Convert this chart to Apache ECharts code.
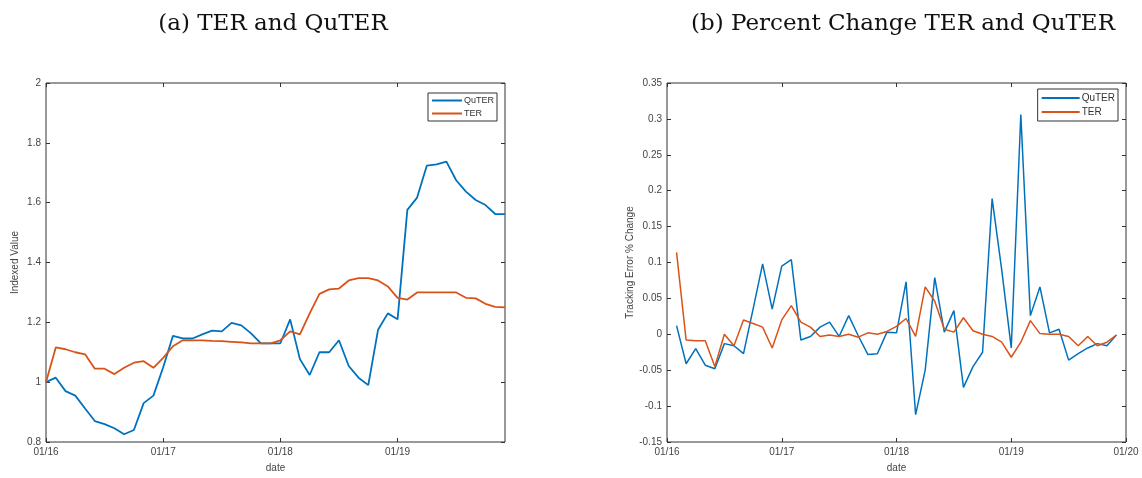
<!DOCTYPE html>
<html>
<head>
<meta charset="utf-8">
<script src="https://cdn.jsdelivr.net/npm/echarts@6/dist/echarts.min.js"></script>
<style>
  html, body { margin: 0; padding: 0; background: #fff; }
  #chart { width: 1142px; height: 478px; }
</style>
</head>
<body>
<div id="chart"></div>
<script>
// monthly dates 01/16 .. 01/20
var months = [
  '01/16','02/16','03/16','04/16','05/16','06/16','07/16','08/16','09/16','10/16','11/16','12/16',
  '01/17','02/17','03/17','04/17','05/17','06/17','07/17','08/17','09/17','10/17','11/17','12/17',
  '01/18','02/18','03/18','04/18','05/18','06/18','07/18','08/18','09/18','10/18','11/18','12/18',
  '01/19','02/19','03/19','04/19','05/19','06/19','07/19','08/19','09/19','10/19','11/19','12/19',
  '01/20'
];

// (a) indexed values, 01/16 .. 12/19
var quterIndex = [
  1.00, 1.015, 0.97, 0.955, 0.912, 0.87, 0.86, 0.846, 0.826, 0.84, 0.93, 0.955,
  1.05, 1.155, 1.146, 1.146, 1.16, 1.172, 1.17, 1.198, 1.19, 1.163, 1.13, 1.13,
  1.13, 1.21, 1.077, 1.024, 1.10, 1.10, 1.14, 1.054, 1.015, 0.99, 1.175, 1.23,
  1.21, 1.576, 1.617, 1.724, 1.728, 1.737, 1.675, 1.637, 1.609, 1.592, 1.562, 1.562
];
var terIndex = [
  1.00, 1.116, 1.11, 1.10, 1.093, 1.045, 1.045, 1.027, 1.048, 1.065, 1.07, 1.048,
  1.081, 1.12, 1.14, 1.14, 1.14, 1.138, 1.137, 1.135, 1.133, 1.13, 1.13, 1.13,
  1.14, 1.17, 1.16, 1.23, 1.295, 1.31, 1.313, 1.34, 1.348, 1.348, 1.34, 1.32,
  1.282, 1.276, 1.30, 1.30, 1.30, 1.30, 1.30, 1.282, 1.28, 1.262, 1.252, 1.25
];

// (b) percent change, 02/16 .. 12/19
var quterPct = [
  0.012, -0.041, -0.02, -0.043, -0.048, -0.013, -0.016, -0.027, 0.035, 0.098, 0.035,
  0.095, 0.104, -0.008, -0.003, 0.01, 0.017, -0.003, 0.026, -0.002, -0.028, -0.027, 0.003,
  0.002, 0.073, -0.112, -0.05, 0.079, 0.003, 0.033, -0.074, -0.045, -0.025, 0.189, 0.09,
  -0.019, 0.306, 0.026, 0.066, 0.002, 0.007, -0.036, -0.027, -0.019, -0.013, -0.016, -0.001
];
var terPct = [
  0.114, -0.008, -0.009, -0.009, -0.045, 0.0, -0.016, 0.02, 0.015, 0.01, -0.019,
  0.02, 0.04, 0.017, 0.01, -0.003, -0.001, -0.003, 0.0, -0.004, 0.002, 0.0, 0.004,
  0.011, 0.022, -0.003, 0.066, 0.046, 0.007, 0.003, 0.023, 0.005, 0.0, -0.003, -0.011,
  -0.032, -0.011, 0.019, 0.001, 0.0, 0.0, -0.003, -0.016, -0.003, -0.016, -0.011, -0.001
];

var blue = '#0072BD';
var orange = '#D95319';
var axisColor = '#333';
var labelFont = 'Liberation Sans, Arial, sans-serif';

var chart = echarts.init(document.getElementById('chart'));

function xAxisFor(grid, cats, pos) {
  var top = pos === 'top';
  return {
    type: 'category',
    gridIndex: grid,
    position: pos,
    data: cats,
    boundaryGap: false,
    name: top ? '' : 'date',
    nameLocation: 'middle',
    nameGap: 21,
    nameTextStyle: { fontFamily: labelFont, fontSize: 10, color: '#444' },
    axisLine: { show: false, onZero: false },
    axisTick: { show: true, inside: true, length: 4, interval: 11, lineStyle: { color: axisColor } },
    axisLabel: {
      show: !top, interval: 11, fontFamily: labelFont, fontSize: 10, color: '#444', margin: 5
    },
    splitLine: { show: false }
  };
}

function yAxisFor(grid, min, max, step, name, gap, pos) {
  var right = pos === 'right';
  return {
    type: 'value',
    gridIndex: grid,
    position: pos,
    min: min,
    max: max,
    interval: step,
    name: right ? '' : name,
    nameLocation: 'middle',
    nameGap: gap,
    nameTextStyle: { fontFamily: labelFont, fontSize: 10, color: '#444' },
    axisLine: { show: false, onZero: false },
    axisTick: { show: true, inside: true, length: 4, lineStyle: { color: axisColor } },
    axisLabel: {
      show: !right, fontFamily: labelFont, fontSize: 10, color: '#444', margin: 5,
      formatter: function (v) { return String(+v.toFixed(2)); }
    },
    splitLine: { show: false }
  };
}

var leftMonths = months.slice(0, quterIndex.length);
var titleStyle = { fontFamily: 'DejaVu Serif, serif', fontWeight: 'normal', fontSize: 23, color: '#111' };

var option = {
  animation: false,
  backgroundColor: '#fff',
  title: [
    { text: '(a) TER and QuTER', left: 268, top: 8, textAlign: 'center', textStyle: titleStyle },
    { text: '(b) Percent Change TER and QuTER', left: 898, top: 8, textAlign: 'center', textStyle: titleStyle }
  ],
  grid: [
    { left: 46, top: 83, width: 459, height: 364, show: true, borderColor: axisColor, borderWidth: 1, backgroundColor: '#fff' },
    { left: 667, top: 83, width: 459, height: 363, show: true, borderColor: axisColor, borderWidth: 1, backgroundColor: '#fff' }
  ],
  legend: [
    {
      orient: 'vertical', right: 1142 - 497, top: 93, data: ['QuTER', 'TER'],
      icon: 'rect', itemWidth: 30, itemHeight: 2, itemGap: 4,
      borderColor: axisColor, borderWidth: 1, padding: [3, 3, 3, 4], backgroundColor: '#fff',
      textStyle: { fontFamily: labelFont, fontSize: 9, color: '#333', padding: [0, 0, 0, -3] }
    },
    {
      orient: 'vertical', right: 1142 - 1118, top: 89, data: ['QuTER', 'TER'],
      icon: 'rect', itemWidth: 38, itemHeight: 2, itemGap: 4,
      borderColor: axisColor, borderWidth: 1, padding: [4, 3, 4, 4], backgroundColor: '#fff',
      textStyle: { fontFamily: labelFont, fontSize: 10, color: '#333', padding: [0, 0, 0, -3] }
    }
  ],
  xAxis: [
    xAxisFor(0, leftMonths, 'bottom'),
    xAxisFor(1, months, 'bottom'),
    xAxisFor(0, leftMonths, 'top'),
    xAxisFor(1, months, 'top')
  ],
  yAxis: [
    yAxisFor(0, 0.8, 2, 0.2, 'Indexed Value', 26, 'left'),
    yAxisFor(1, -0.15, 0.35, 0.05, 'Tracking Error % Change', 32, 'left'),
    yAxisFor(0, 0.8, 2, 0.2, '', 0, 'right'),
    yAxisFor(1, -0.15, 0.35, 0.05, '', 0, 'right')
  ],
  series: [
    {
      name: 'QuTER', type: 'line', xAxisIndex: 0, yAxisIndex: 0, showSymbol: false,
      itemStyle: { color: blue }, lineStyle: { color: blue, width: 1.8 },
      data: quterIndex
    },
    {
      name: 'TER', type: 'line', xAxisIndex: 0, yAxisIndex: 0, showSymbol: false,
      itemStyle: { color: orange }, lineStyle: { color: orange, width: 1.8 },
      data: terIndex
    },
    {
      name: 'QuTER', type: 'line', xAxisIndex: 1, yAxisIndex: 1, showSymbol: false,
      itemStyle: { color: blue }, lineStyle: { color: blue, width: 1.5 },
      data: quterPct.map(function (v, i) { return [months[i + 1], v]; })
    },
    {
      name: 'TER', type: 'line', xAxisIndex: 1, yAxisIndex: 1, showSymbol: false,
      itemStyle: { color: orange }, lineStyle: { color: orange, width: 1.5 },
      data: terPct.map(function (v, i) { return [months[i + 1], v]; })
    }
  ]
};

chart.setOption(option);
</script>
</body>
</html>
